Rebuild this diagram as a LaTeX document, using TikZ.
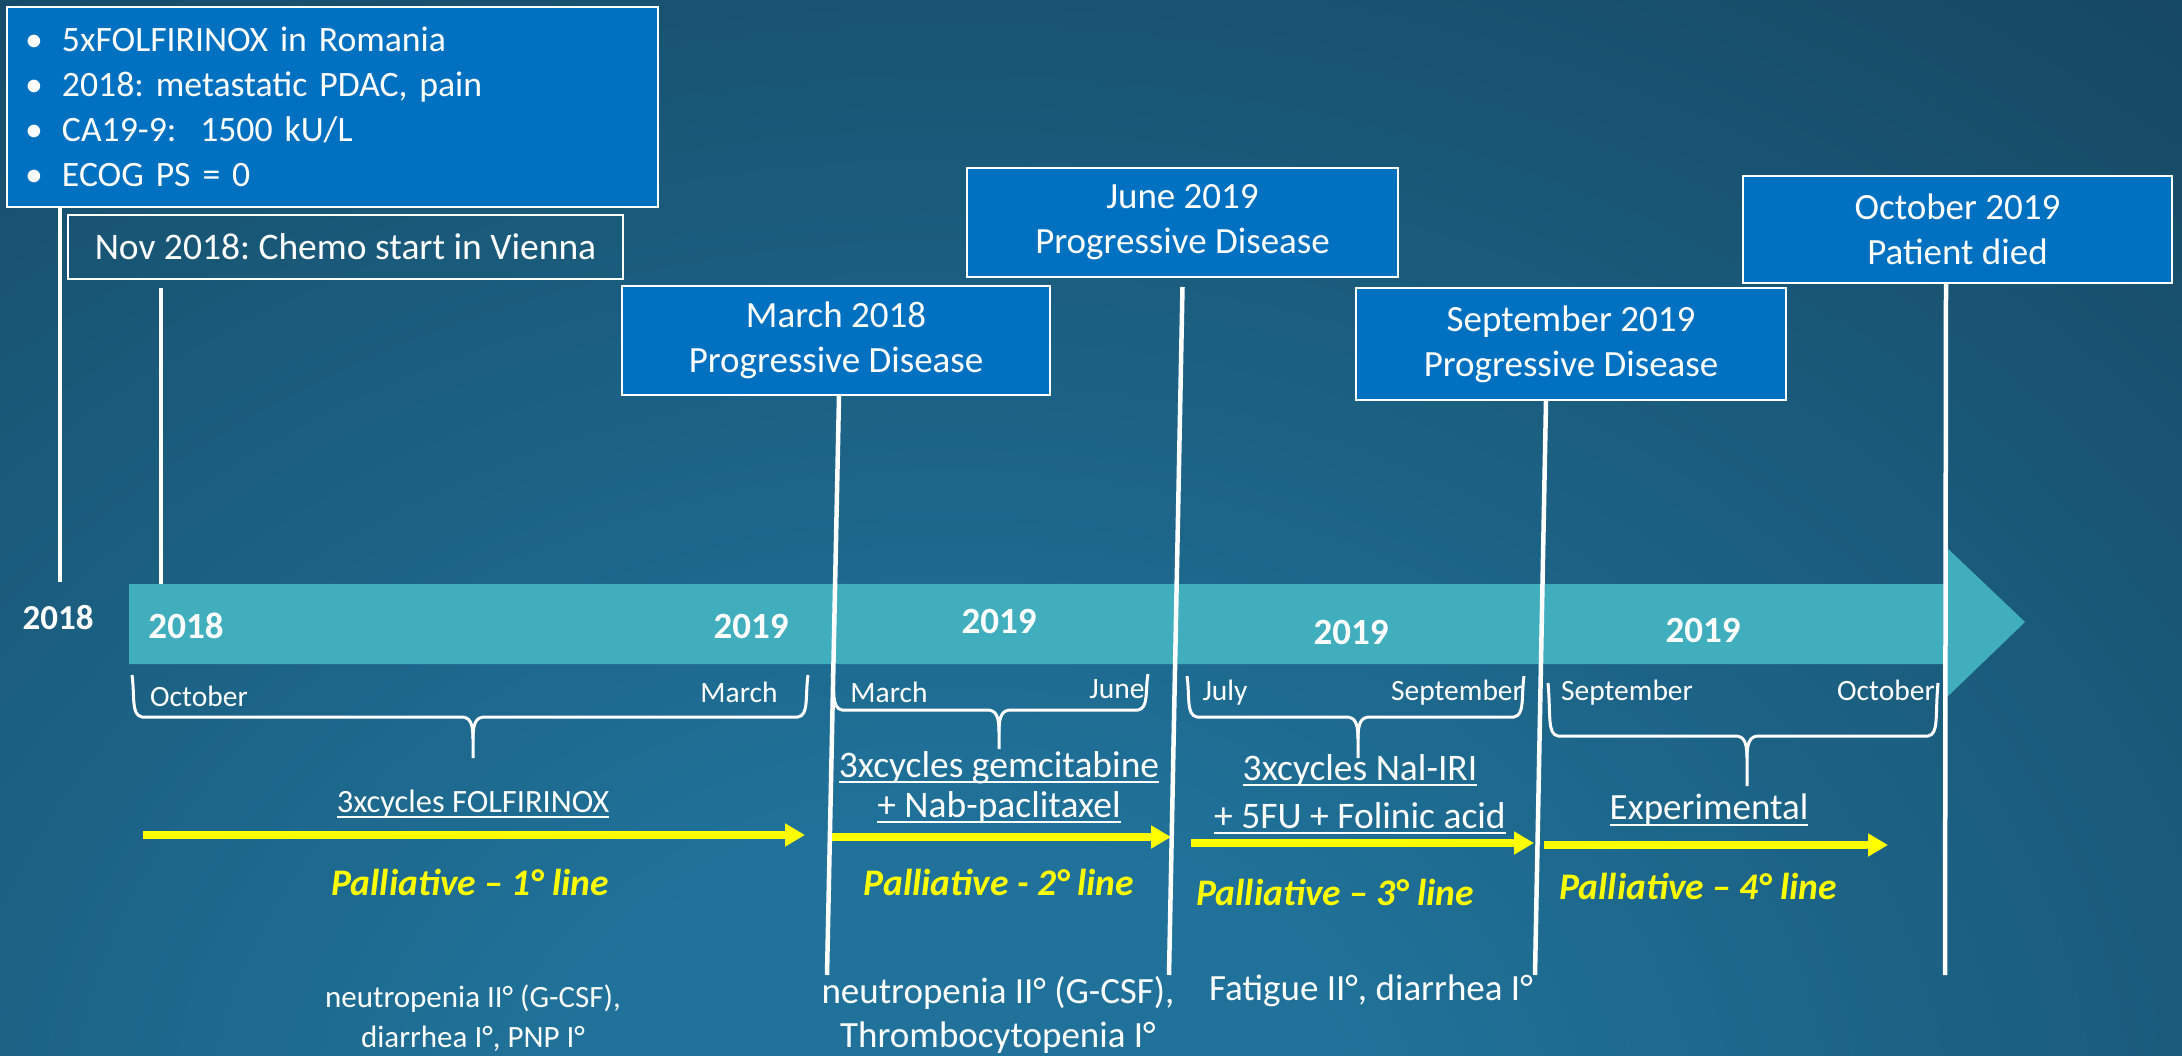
\documentclass[tikz,border=0pt]{standalone}
\usepackage{fontspec}
\setmainfont{Carlito}
\usetikzlibrary{arrows.meta}
\definecolor{bgB}{HTML}{20729A}
\definecolor{bgD}{HTML}{11364B}
\definecolor{boxblue}{HTML}{0070C0}
\definecolor{bandc}{HTML}{41AEBD}
\definecolor{yel}{HTML}{FFFF00}
\pgfdeclareradialshading{bgsh}{\pgfpoint{0bp}{0bp}}{color(0bp)=(bgB); color(3bp)=(bgB); color(19bp)=(bgD); color(50bp)=(bgD)}
\newlength\ulw
\newcommand\ul[1]{\settowidth\ulw{#1}\makebox[0pt][l]{\rule[-6pt]{\ulw}{1.8pt}}#1}
\newcommand\bul{\makebox[37pt][l]{•}}
\newcommand\tlbrace[6]{%
 \draw[bracestyle] (#1,#4) .. controls (#1+3,#5-20) and (#1-1,#5-2) .. (#1+10,#5) -- (#3-12,#5) .. controls (#3-3,#5) and (#3,#5+6) .. (#3,#5+22) -- (#3,#6);
 \draw[bracestyle] (#3,#5+22) .. controls (#3,#5+6) and (#3+3,#5) .. (#3+12,#5) -- (#2-10,#5) .. controls (#2+1,#5-2) and (#2-3,#5-20) .. (#2,#4);
}
\frenchspacing
\begin{document}
\begin{tikzpicture}[x=1pt,y=-1pt,
 bluebox/.style={draw=white, line width=2pt, fill=boxblue, text=white, align=center, font=\fontsize{37}{45}\selectfont, inner sep=0pt, anchor=north west},
 vline/.style={draw=white, line width=4.5pt},
 bandtxt/.style={text=white, font=\fontsize{37}{40}\selectfont\bfseries},
 month/.style={text=white, font=\fontsize{29.5}{32}\selectfont},
 treat/.style={text=white, align=center, font=\fontsize{37.5}{40}\selectfont},
 pall/.style={text=yel, font=\fontsize{37.5}{40}\selectfont\bfseries\itshape},
 tox/.style={text=white, align=center, font=\fontsize{37}{44}\selectfont},
 yarrow/.style={draw=yel, line width=8pt, -{Triangle[width=22pt,length=20pt]}},
 bracestyle/.style={draw=white, line width=3pt, line join=round}]

\useasboundingbox (0,0) rectangle (2182,1056);
\fill[bgD] (0,0) rectangle (2182,1056);
\begin{scope}
 \clip (0,0) rectangle (2182,1056);
 \shade[shading=bgsh] (950,1150) ellipse [x radius=3380pt, y radius=2600pt];
\end{scope}

% timeline band
\fill[bandc] (129,584) -- (1944,584) -- (1944,545) -- (2025,622) -- (1944,700) -- (1944,664) -- (129,664) -- cycle;

% year labels
\node[bandtxt, font=\fontsize{35}{40}\selectfont\bfseries] (y0) at (58,618) {2018};
\node[bandtxt] (y1) at (186,626) {2018};
\node[bandtxt] (y2) at (751,626) {2019};
\node[bandtxt] (y3) at (999,621) {2019};
\node[bandtxt] (y4) at (1351,632) {2019};
\node[bandtxt] (y5) at (1703,630) {2019};

% month labels
\node[month] (m1) at (199,696) {October};
\node[month] (m2) at (739,692) {March};
\node[month] (m3) at (889,692) {March};
\node[month] (m4) at (1117,689) {June};
\node[month] (m5) at (1225,693) {July};
\node[month] (m6) at (1457,693) {September};
\node[month] (m7) at (1627,693) {September};
\node[month] (m8) at (1886,690) {October};

% braces
\tlbrace{132}{808}{473}{675}{717}{758}
\tlbrace{832}{1148}{999}{674}{710}{749}
\tlbrace{1187}{1524}{1358}{676}{717}{758}
\tlbrace{1548}{1938}{1747}{683}{736}{786}

% treatments
\node[treat, font=\fontsize{32.5}{40}\selectfont] (t1) at (473,804) {\ul{3xcycles FOLFIRINOX}};
\node[treat] (t2) at (999,787) {\ul{3xcycles gemcitabine}\\\ul{+ Nab-paclitaxel}};
\node[treat, font=\fontsize{37.5}{48}\selectfont] (t3) at (1360,794) {\ul{3xcycles Nal-IRI}\\\ul{+ 5FU + Folinic acid}};
\node[treat, font=\fontsize{37}{40}\selectfont] (t4) at (1709,810) {\ul{Experimental}};

% yellow arrows
\coordinate (ya1) at (143,835); \coordinate (yb1) at (805,835);
\coordinate (ya2) at (829,837); \coordinate (yb2) at (1171,837);
\coordinate (ya3) at (1191,843); \coordinate (yb3) at (1534,843);
\coordinate (ya4) at (1544,845); \coordinate (yb4) at (1888,845);
\draw[yarrow] (ya1) -- (yb1);
\draw[yarrow] (ya2) -- (yb2);
\draw[yarrow] (ya3) -- (yb3);
\draw[yarrow] (ya4) -- (yb4);

% palliative labels
\node[pall] (p1) at (470,882) {Palliative – 1° line};
\node[pall] (p2) at (999,882) {Palliative - 2° line};
\node[pall] (p3) at (1335,892) {Palliative – 3° line};
\node[pall] (p4) at (1698,886) {Palliative – 4° line};

% toxicities
\node[tox, font=\fontsize{31}{40}\selectfont] (x1) at (473,1018) {neutropenia II° (G-CSF),\\diarrhea I°, PNP I°};
\node[tox] (x2) at (998,1015) {neutropenia II° (G-CSF),\\Thrombocytopenia I°};
\node[tox] (x3) at (1371,991) {Fatigue II°, diarrhea I°};

% boxes
\node[bluebox, minimum height=200pt, align=left, text width=615pt, inner xsep=18pt, font=\fontsize{35.7}{45}\selectfont] (info) at (6,6)
 {\bul 5xFOLFIRINOX in Romania\\
  \bul 2018: metastatic PDAC, pain\\
  \bul CA19-9:\ \ 1500 kU/L\\
  \bul ECOG PS = 0};
\node[draw=white, line width=2pt, text=white, minimum width=555pt, minimum height=64pt, anchor=north west, inner sep=0pt, font=\fontsize{37.5}{40}\selectfont] (nov) at (67,214) {Nov 2018: Chemo start in Vienna};
\node[bluebox, minimum width=428pt, minimum height=109pt] (mar) at (621,285) {March 2018\\Progressive Disease};
\node[bluebox, minimum width=431pt, minimum height=109pt] (jun) at (966,167) {June 2019\\Progressive Disease};
\node[bluebox, minimum width=430pt, minimum height=112pt] (sep) at (1355,287) {September 2019\\Progressive Disease};
\node[bluebox, minimum width=429pt, minimum height=107pt] (oct) at (1742,175) {October 2019\\Patient died};

% vertical marker lines
\coordinate (a1) at (60,582);
\coordinate (a2t) at (161,288); \coordinate (a2) at (161,584);
\coordinate (a3) at (827,975);
\coordinate (a4) at (1169,975);
\coordinate (a5) at (1535,975);
\coordinate (a6) at (1945,975);
\draw[vline] (info.south -| a1) -- (a1);
\draw[vline] (a2t) -- (a2);
\draw[vline] ([xshift=3pt]mar.south) -- (a3);
\draw[vline] ([yshift=-9pt]jun.south) -- (a4);
\draw[vline] ([xshift=-25pt]sep.south) -- (a5);
\draw[vline] ([xshift=-11.5pt]oct.south) -- (a6);
\end{tikzpicture}
\end{document}
